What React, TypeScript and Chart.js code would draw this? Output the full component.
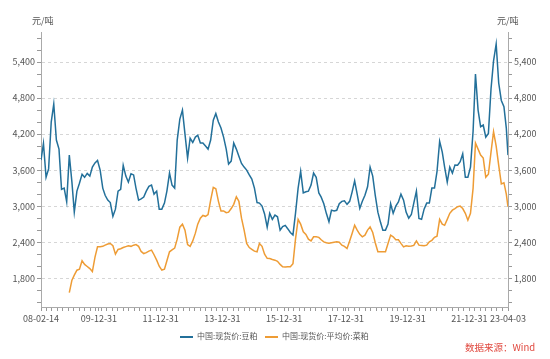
import React, { useEffect, useRef } from 'react';
import { Chart, registerables } from 'chart.js';

Chart.register(...registerables);

const START = '2008-02-14';
const END = '2023-04-03';

const xTickLabels = ['08-02-14', '09-12-31', '11-12-31', '13-12-31', '15-12-31', '17-12-31', '19-12-31', '21-12-31', '23-04-03'];

const seriesNames = ['中国:现货价:豆粕', '中国:现货价:平均价:菜粕'];

// monthly readings, first point 2008-02-14, last point 2023-04-03
const soymeal = [
  3767, 4045, 3480, 3620, 4400, 4700, 4100, 3950, 3280, 3300,
  3072, 3850, 3400, 2900, 3250, 3380, 3530, 3480, 3545, 3500,
  3650, 3720, 3760, 3600, 3300, 3180, 3100, 3060, 2830, 2950,
  3250, 3280, 3680, 3500, 3400, 3540, 3520, 3300, 3100, 3120,
  3150, 3250, 3330, 3350, 3200, 3250, 2950, 2950, 3050, 3250,
  3550, 3350, 3300, 4100, 4450, 4600, 4200, 3800, 4130, 4060,
  4150, 4180, 4050, 4050, 4000, 3950, 4100, 4430, 4540, 4400,
  4300, 4150, 3950, 3700, 3750, 4050, 3950, 3830, 3711, 3650,
  3600, 3520, 3450, 3300, 3060, 3050, 3000, 2870, 2650, 2880,
  2780, 2850, 2822, 2600, 2660, 2680, 2620, 2560, 2520, 2878,
  3300, 3580, 3220, 3240, 3250, 3350, 3550, 3480, 3220, 3150,
  3040, 2880, 2740, 2933, 2920, 2930, 3040, 3080, 3090, 3030,
  3080, 3230, 3420, 3200, 2961, 3080, 3180, 3322, 3650, 3500,
  3180, 2900, 2730, 2600, 2600, 2700, 3040, 2880, 3000, 3070,
  3200, 3100, 2900, 2800, 2860, 3050, 3250, 2794, 2780, 2950,
  3050, 3050, 3300, 3300, 3580, 4080, 3900, 3650, 3400, 3650,
  3550, 3683, 3680, 3739, 3870, 3480, 3480, 3650, 4250, 5200,
  4600, 4322, 4350, 4150, 4211, 4950, 5420, 5700, 5050, 4760,
  4655, 4300, 3850,
];

const rapeseedMeal = [
  null, null, null, null, null, null, null, null, null, null,
  null, 1560, 1767, 1850, 1933, 1950, 2090, 2030, 1995, 1960,
  1910, 2150, 2322, 2322, 2330, 2350, 2370, 2378, 2340, 2200,
  2278, 2290, 2310, 2325, 2339, 2330, 2350, 2360, 2330, 2245,
  2210, 2225, 2250, 2267, 2190, 2100, 2000, 1935, 1950, 2090,
  2239, 2270, 2300, 2450, 2650, 2700, 2600, 2360, 2330, 2420,
  2550, 2700, 2800, 2845, 2830, 2860, 3100, 3311, 3290, 3080,
  2920, 2920, 2890, 2900, 2960, 3030, 3156, 3080, 2800, 2600,
  2378, 2310, 2280, 2250, 2239, 2378, 2330, 2200, 2130, 2128,
  2110, 2100, 2080, 2030, 1990, 1985, 1990, 1990, 2040, 2450,
  2780, 2700, 2572, 2530, 2450, 2420, 2489, 2489, 2480, 2440,
  2405, 2390, 2380, 2390, 2400, 2405, 2400, 2350, 2330, 2294,
  2420, 2540, 2683, 2600, 2530, 2489, 2517, 2600, 2655, 2560,
  2390, 2239, 2239, 2239, 2239, 2378, 2517, 2490, 2440, 2440,
  2380, 2322, 2340, 2330, 2335, 2345, 2420, 2350, 2345, 2340,
  2350, 2405, 2430, 2480, 2500, 2780, 2700, 2680, 2780, 2880,
  2933, 2960, 2990, 3000, 2960, 2880, 2766, 2880, 3300, 4050,
  3950, 3850, 3800, 3480, 3530, 3900, 4239, 4000, 3680, 3370,
  3390, 3200, 2988,
];

const BLUE = '#23709a';
const ORANGE = '#ee9c35';
const FONT = '"Noto Sans CJK SC", "Noto Sans", sans-serif';

function parseIso(s: string) {
  const [y, m, d] = s.split('-').map(Number);
  return Date.UTC(y, m - 1, d);
}
function parseShort(s: string) {
  const [y, m, d] = s.split('-').map(Number);
  return Date.UTC(2000 + y, m - 1, d);
}

export default function App() {
  const ref = useRef<HTMLCanvasElement>(null);

  useEffect(() => {
    if (!ref.current) return;
    const startMs = parseIso(START);
    const endMs = parseIso(END);
    const n = soymeal.length;
    const dates: number[] = [];
    for (let i = 0; i < n - 1; i++) dates.push(Date.UTC(2008, 1 + i, 14));
    dates.push(endMs);

    const soyPts = soymeal.map((v, i) => ({ x: dates[i], y: v }));
    const rapePts = rapeseedMeal
      .map((v, i) => ({ x: dates[i], y: v }))
      .filter((p) => p.y !== null) as { x: number; y: number }[];

    const labelMap = new Map<number, string>();
    xTickLabels.forEach((l) => labelMap.set(parseShort(l), l));
    const DAY = 86400000;
    const xTicks: number[] = [];
    for (let t = startMs; t <= endMs; t += 65 * DAY) xTicks.push(t);
    labelMap.forEach((_, k) => {
      const idx = xTicks.findIndex((t) => Math.abs(t - k) < 20 * DAY);
      if (idx < 0) xTicks.push(k);
      else xTicks[idx] = k;
    });
    xTicks.sort((a, b) => a - b);

    const yTicks: number[] = [];
    for (let v = 1400; v <= 5800; v += 200) yTicks.push(v);

    const tickFont = { family: FONT, size: 9 };
    const yAxisCommon = {
      type: 'linear' as const,
      min: 1320,
      max: 5900,
      afterBuildTicks: (s: any) => {
        s.ticks = yTicks.map((v) => ({ value: v }));
      },
      ticks: {
        autoSkip: false,
        font: tickFont,
        color: '#555',
        padding: 2,
        callback: (v: any) => (Number(v) % 600 === 0 ? Number(v).toLocaleString('en-US') : ''),
      },
      border: { color: '#aaa', width: 1, dash: [3, 3] },
    };

    const chart = new Chart(ref.current, {
      type: 'line',
      data: {
        datasets: [
          {
            label: seriesNames[0],
            data: soyPts,
            borderColor: BLUE,
            backgroundColor: BLUE,
            borderWidth: 1.5,
            pointRadius: 0,
            tension: 0,
            yAxisID: 'y',
          },
          {
            label: seriesNames[1],
            data: rapePts,
            borderColor: ORANGE,
            backgroundColor: ORANGE,
            borderWidth: 1.5,
            pointRadius: 0,
            tension: 0,
            yAxisID: 'y',
          },
        ],
      },
      options: {
        animation: false,
        responsive: false,
        devicePixelRatio: 1,
        layout: { padding: { top: 32, left: 0, right: 0, bottom: 0 } },
        plugins: { legend: { display: false }, tooltip: { enabled: false } },
        scales: {
          x: {
            type: 'linear',
            min: startMs,
            max: endMs,
            afterBuildTicks: (s: any) => {
              s.ticks = xTicks.map((v) => ({ value: v }));
            },
            afterFit: (s: any) => {
              s.height = 52;
            },
            ticks: {
              autoSkip: false,
              maxRotation: 0,
              minRotation: 0,
              padding: 2,
              font: tickFont,
              color: '#555',
              callback: (v: any) => labelMap.get(Number(v)) ?? '',
            },
            grid: { drawOnChartArea: false, tickLength: 4, tickColor: '#999' },
            border: { color: '#aaa', width: 1 },
          },
          y: {
            ...yAxisCommon,
            position: 'left',
            afterFit: (s: any) => {
              s.width = 41;
            },
            grid: {
              color: (c: any) => (c.tick && c.tick.value % 600 === 0 ? '#d6d6d6' : 'rgba(0,0,0,0)'),
              tickColor: '#999',
              tickLength: 4,
              lineWidth: 1,
            },
          },
          y2: {
            ...yAxisCommon,
            position: 'right',
            afterFit: (s: any) => {
              s.width = 42;
            },
            grid: { drawOnChartArea: false, tickColor: '#999', tickLength: 4 },
            border: { color: '#aaa', width: 1 },
          },
        },
      },
    } as any);
    return () => chart.destroy();
  }, []);

  const textBase: React.CSSProperties = {
    position: 'absolute',
    fontFamily: FONT,
    whiteSpace: 'nowrap',
    lineHeight: 1,
  };

  return (
    <div style={{ position: 'fixed', left: 0, top: 0, width: 550, height: 359, background: '#fff', overflow: 'hidden' }}>
      <canvas ref={ref} width={550} height={359} style={{ display: 'block', width: 550, height: 359 }} />
      <div style={{ ...textBase, left: 32, top: 16, fontSize: 9, color: '#555' }}>元/吨</div>
      <div style={{ ...textBase, left: 497, top: 16, fontSize: 9, color: '#555' }}>元/吨</div>
      <div style={{ position: 'absolute', left: 180, top: 336, width: 13, height: 2, background: BLUE }} />
      <div style={{ ...textBase, left: 197, top: 332, fontSize: 8, color: '#555' }}>{seriesNames[0]}</div>
      <div style={{ position: 'absolute', left: 265, top: 336, width: 13, height: 2, background: ORANGE }} />
      <div style={{ ...textBase, left: 282, top: 332, fontSize: 8, color: '#555' }}>{seriesNames[1]}</div>
      <div style={{ ...textBase, left: 465, top: 343, fontSize: 9.5, color: '#e0483e' }}>数据来源：Wind</div>
    </div>
  );
}
